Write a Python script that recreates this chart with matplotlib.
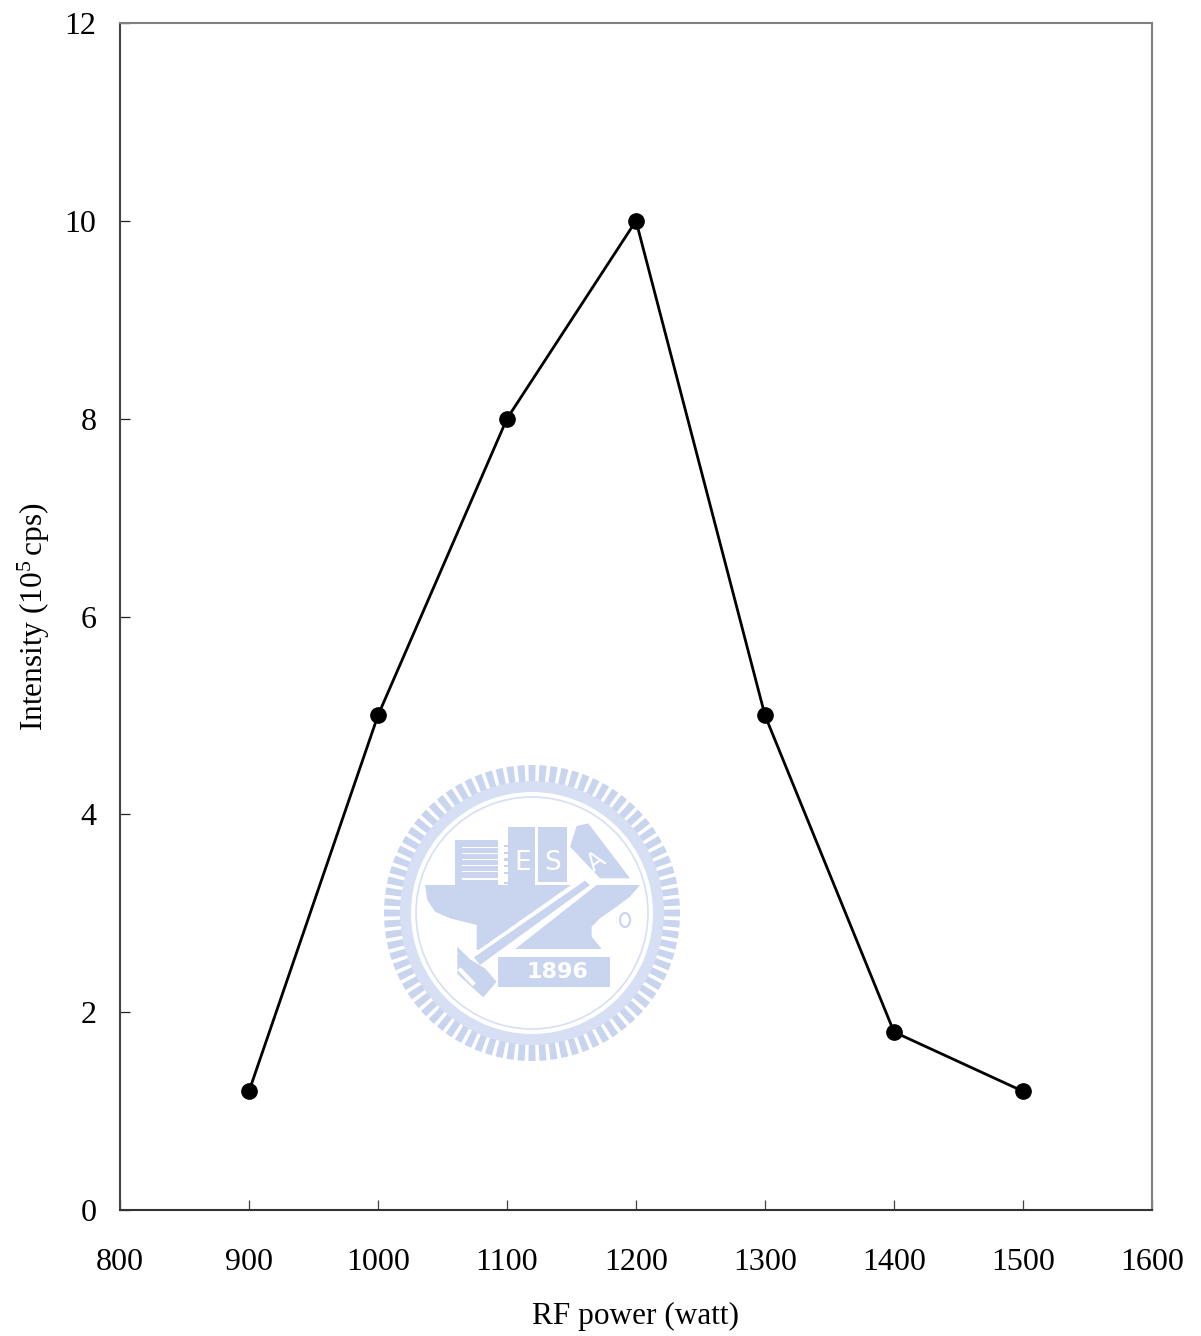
import matplotlib
matplotlib.use("Agg")
import matplotlib.pyplot as plt
import numpy as np
from matplotlib.patches import Circle, Rectangle, Polygon, Wedge, Ellipse

rf_power = [900, 1000, 1100, 1200, 1300, 1400, 1500]
intensity = [1.2, 5, 8, 10, 5, 1.8, 1.2]
x_ticks = [800, 900, 1000, 1100, 1200, 1300, 1400, 1500, 1600]
y_ticks = [0, 2, 4, 6, 8, 10, 12]

W, H = 1201, 1336
plt.rcParams['font.family'] = ['Liberation Serif', 'DejaVu Serif']
plt.rcParams['mathtext.fontset'] = 'custom'
plt.rcParams['mathtext.rm'] = 'Liberation Serif'
plt.rcParams['mathtext.default'] = 'rm'

fig = plt.figure(figsize=(W/100, H/100), dpi=100)
ax = fig.add_axes([120/W, 1-1210/H, (1152-120)/W, (1210-23)/H])

# watermark logo, drawn in pixel coords of the page
wm = fig.add_axes([0, 0, 1, 1], zorder=0)
wm.set_xlim(0, W)
wm.set_ylim(H, 0)
wm.axis('off')
blue = '#c9d5ef'
pale = '#d6dff4'
cx, cy = 532, 913

def pts(*p):
    return [(370 + a/3, 750 + b/3) for a, b in p]

def poly(color, *p):
    wm.add_patch(Polygon(pts(*p), fc=color, ec='none'))

def box(color, x0, y0, x1, y1):
    poly(color, (x0, y0), (x1, y0), (x1, y1), (x0, y1))

for a in np.arange(0, 360, 360/84):
    wm.add_patch(Wedge((cx, cy), 148, a-1.4, a+1.4, width=18, fc=blue, ec='none'))
wm.add_patch(Wedge((cx, cy), 132, 0, 360, width=11, fc=pale, ec='none'))
wm.add_patch(Circle((cx, cy), 116, fc='none', ec=pale, lw=1.2))

# hull
poly(blue, (165, 405), (810, 405), (780, 440), (740, 470), (690, 505), (665, 530),
     (665, 560), (695, 597), (420, 597), (320, 600), (320, 525), (240, 505),
     (195, 485), (172, 450))
# buildings
box(blue, 255, 270, 385, 405)
for y in [290, 308, 326, 344, 362, 385]:
    box('white', 275, y, 385, y+5)
for y in [285, 305, 325, 345, 365, 395]:
    box(blue, 403, y, 415, y+7)
box(blue, 415, 230, 495, 405)
box(blue, 505, 230, 590, 395)
poly(blue, (620, 228), (655, 220), (780, 385), (690, 385), (600, 290))
# sword
poly('white', (650, 372), (680, 405), (345, 668), (290, 625))
poly(blue, (645, 392), (660, 405), (330, 645), (312, 622))
poly(blue, (262, 590), (300, 628), (345, 655), (380, 695), (340, 742), (262, 672))
poly('white', (262, 660), (272, 652), (318, 700), (308, 708))
# year plate
box(blue, 385, 622, 720, 710)
wm.text(370 + 562/3, 750 + 667/3, '1896', color='white', fontsize=16, fontweight='bold',
        ha='center', va='center', family='DejaVu Sans')
wm.text(370 + 458/3, 750 + 340/3, 'E', color='white', fontsize=19, ha='center', va='center',
        family='DejaVu Sans')
wm.text(370 + 548/3, 750 + 340/3, 'S', color='white', fontsize=19, ha='center', va='center',
        family='DejaVu Sans')
wm.text(370 + 678/3, 750 + 335/3, 'A', color='white', fontsize=17, ha='center', va='center',
        rotation=35, family='DejaVu Sans')
wm.add_patch(Ellipse((370 + 765/3, 750 + 510/3), 10, 14, fc='none', ec=blue, lw=1.5))

ax.patch.set_alpha(0)
ax.plot(rf_power, intensity, color='black', lw=2.0, marker='o', ms=11, zorder=3, clip_on=False)
ax.set_xlim(800, 1600)
ax.set_ylim(0, 12)
ax.set_xticks(x_ticks)
ax.set_yticks(y_ticks)
ax.tick_params(axis='x', direction='in', length=7.5, width=0.9, color='#444444', labelsize=23, pad=27)
ax.tick_params(axis='y', direction='in', length=7.5, width=0.9, color='#222222', labelsize=23, pad=17)
ax.spines['left'].set_color('#444444')
ax.spines['bottom'].set_color('#333333')
ax.spines['top'].set_color('#808080')
ax.spines['right'].set_color('#808080')
for s in ax.spines.values():
    s.set_linewidth(1.5)

fig.text(636/W, 1-1316/H, 'RF power (watt)', fontsize=22.5, ha='center', va='center')
fig.text(34/W, 1-617/H, r'Intensity (10$^{5}$$\,$cps)', fontsize=22.5, rotation=90, ha='center', va='center')

fig.savefig('out.png', dpi=100)
